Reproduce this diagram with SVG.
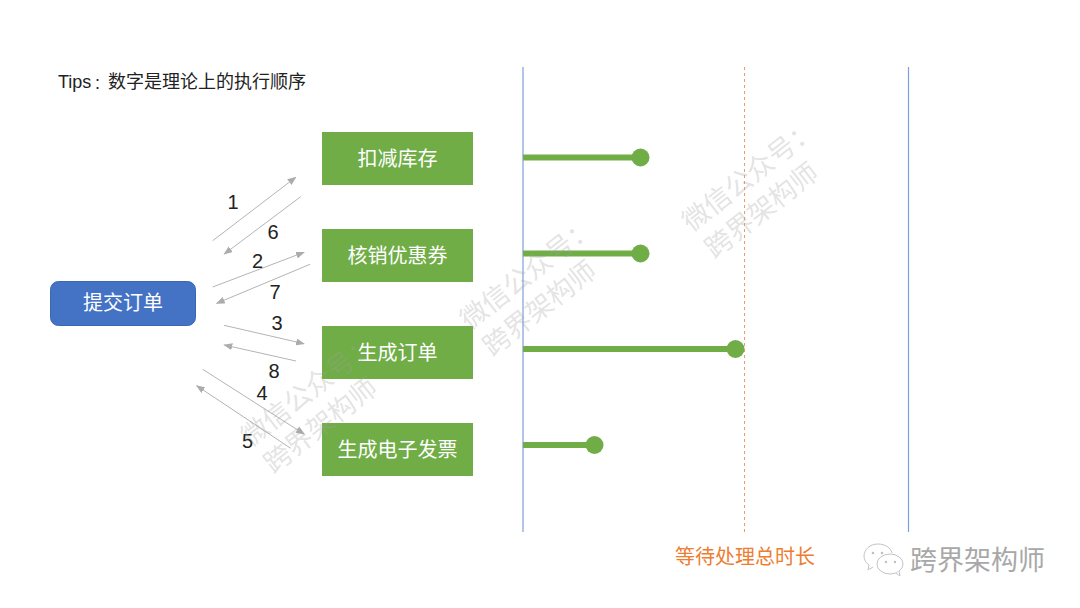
<svg xmlns="http://www.w3.org/2000/svg" width="1080" height="608" viewBox="0 0 1080 608">
<style>
text{font-family:"Liberation Sans","Noto Sans CJK SC",sans-serif}
.cjk{font-family:"Noto Sans CJK SC","Liberation Sans",sans-serif}
.box{fill:#70ad47}
.lbl{font-size:20px;fill:#fff;text-anchor:middle}
.num{font-size:20px;fill:#222;text-anchor:middle}
.arr{stroke:#b4b4b4;stroke-width:1;fill:none;marker-end:url(#ah)}
.bar{stroke:#70ad47;stroke-width:6;fill:none}
.dot{fill:#70ad47}
.wm{font-size:27px;fill:#a0a0a0;fill-opacity:.3;text-anchor:middle}
.bub{fill:#fff;stroke:#c4c4c4;stroke-width:1}
.eye{fill:#c0c0c0}
</style>
<defs><marker id="ah" markerUnits="userSpaceOnUse" markerWidth="9" markerHeight="7" refX="8" refY="3.500" orient="auto"><path d="M0 0L9 3.500L0 7Z" fill="#acacac"/></marker></defs>
<rect width="1080" height="608" fill="#fff"/>
<text id="tips" x="58" y="88" font-size="18" fill="#222">Tips<tspan class="cjk" x="94" font-size="14">：</tspan><tspan class="cjk" x="108">数字是理论上的执行顺序</tspan></text>
<g id="timeline">
<line x1="523" y1="67" x2="523" y2="532" stroke="#7f9fd8" stroke-width="1.2"/>
<line x1="908.500" y1="67" x2="908.500" y2="532" stroke="#7f9fd8" stroke-width="1.2"/>
<line x1="744.500" y1="67" x2="744.500" y2="532" stroke="#ed9a6a" stroke-width="1" stroke-dasharray="3 3"/>
</g>
<g id="node-submit"><rect x="50.500" y="281.500" width="145" height="44" rx="8" fill="#4472c4" stroke="#3a66b5" stroke-width="1"/><text class="lbl cjk" x="123" y="310">提交订单</text></g>
<g id="node-stock"><rect class="box" x="322" y="132" width="151" height="53"/><text class="lbl cjk" x="397.500" y="166">扣减库存</text></g>
<g id="node-coupon"><rect class="box" x="322" y="229" width="151" height="53"/><text class="lbl cjk" x="397.500" y="263">核销优惠券</text></g>
<g id="node-order"><rect class="box" x="322" y="326" width="151" height="53"/><text class="lbl cjk" x="397.500" y="360">生成订单</text></g>
<g id="node-invoice"><rect class="box" x="322" y="423" width="151" height="53"/><text class="lbl cjk" x="397.500" y="457">生成电子发票</text></g>
<g id="connectors">
<line class="arr" x1="212.700" y1="240.700" x2="295.700" y2="177.300"/>
<line class="arr" x1="300.700" y1="196.700" x2="224.300" y2="254"/>
<line class="arr" x1="212.700" y1="287" x2="304" y2="252.300"/>
<line class="arr" x1="310" y1="264.300" x2="216.700" y2="303.300"/>
<line class="arr" x1="224" y1="325.300" x2="304" y2="343.700"/>
<line class="arr" x1="296" y1="361" x2="224.300" y2="345"/>
<line class="arr" x1="202.700" y1="369.300" x2="304" y2="434"/>
<line class="arr" x1="290.700" y1="448.300" x2="196.700" y2="385.700"/>
</g>
<g id="numbers">
<text class="num" x="233" y="209">1</text>
<text class="num" x="273" y="239">6</text>
<text class="num" x="257.500" y="268">2</text>
<text class="num" x="275" y="299">7</text>
<text class="num" x="277" y="330">3</text>
<text class="num" x="274" y="378">8</text>
<text class="num" x="262" y="400">4</text>
<text class="num" x="247.500" y="448">5</text>
</g>
<g id="bars">
<line class="bar" x1="523" y1="157.500" x2="640" y2="157.500"/><circle class="dot" cx="640.500" cy="157.500" r="9"/>
<line class="bar" x1="523" y1="253.500" x2="640" y2="253.500"/><circle class="dot" cx="640.500" cy="253.500" r="9"/>
<line class="bar" x1="523" y1="349" x2="735" y2="349"/><circle class="dot" cx="735.500" cy="349" r="9"/>
<line class="bar" x1="523" y1="445" x2="594" y2="445"/><circle class="dot" cx="594.500" cy="445" r="9"/>
</g>
<g id="watermarks">
<g transform="translate(751 195) rotate(-38)"><text class="wm cjk" x="11" y="-7">微信公众号：</text><text class="wm cjk" x="-1" y="28">跨界架构师</text></g>
<g transform="translate(529 293) rotate(-38)"><text class="wm cjk" x="11" y="-7">微信公众号：</text><text class="wm cjk" x="-1" y="28">跨界架构师</text></g>
<g transform="translate(310 410) rotate(-38)"><text class="wm cjk" x="11" y="-7">微信公众号：</text><text class="wm cjk" x="-1" y="28">跨界架构师</text></g>
</g>
<text id="total" class="cjk" x="745" y="564" font-size="20" fill="#ed7d31" text-anchor="middle">等待处理总时长</text>
<g id="logo">
<path class="bub" d="M878 544c-8 0-14 5.500-14 12 0 4 2 7 5 9l-1 5 5-3"/>
<path class="bub" d="M878 544c7 0 13 4 14 9" fill="none"/>
<ellipse class="bub" cx="890" cy="564" rx="13" ry="10"/>
<path class="bub" d="M896 573l4 3-1-5"/>
<circle class="eye" cx="873" cy="553" r="1.300"/><circle class="eye" cx="882" cy="553" r="1.300"/>
<circle class="eye" cx="886" cy="562" r="1.200"/><circle class="eye" cx="895" cy="562" r="1.200"/>
<text class="cjk" x="910" y="570" font-size="27" fill="#a8a8a8">跨界架构师</text>
</g>
</svg>
